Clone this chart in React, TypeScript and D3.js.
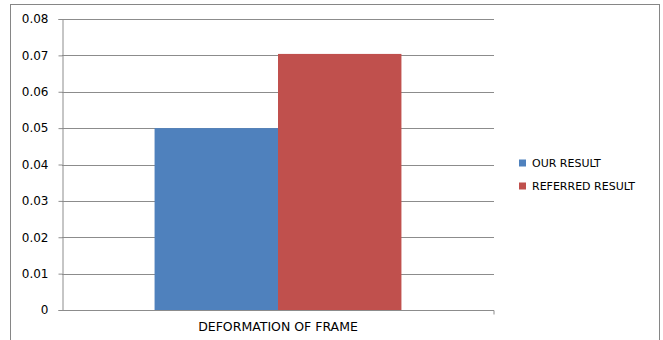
import React, { useEffect, useRef } from "react";
import * as d3 from "d3";

const categories = ["DEFORMATION OF FRAME"];
const seriesNames = ["OUR RESULT", "REFERRED RESULT"];
const ourResult = [0.05];
const referredResult = [0.0704];
const yTicks = [0, 0.01, 0.02, 0.03, 0.04, 0.05, 0.06, 0.07, 0.08];
const colors = ["#4f81bd", "#c0504d"];

export default function App() {
  const ref = useRef<SVGSVGElement>(null);

  useEffect(() => {
    const svg = d3.select(ref.current);
    svg.selectAll("*").remove();

    const W = 663;
    const H = 340;
    const m = { left: 62, right: 169, top: 19, bottom: 30 };
    const font = "'DejaVu Sans', sans-serif";

    svg.append("rect").attr("width", W).attr("height", H).attr("fill", "#fff");

    // outer chart frame
    svg
      .append("rect")
      .attr("x", 10.5)
      .attr("y", 4.5)
      .attr("width", 649)
      .attr("height", 345)
      .attr("fill", "none")
      .attr("stroke", "#868686");

    const x = d3
      .scaleBand()
      .domain(categories)
      .range([m.left, W - m.right]);
    const x1 = d3
      .scaleBand()
      .domain(seriesNames)
      .range([0, x.bandwidth()])
      .paddingOuter(0.75);
    const y = d3
      .scaleLinear()
      .domain([0, 0.08])
      .range([H - m.bottom, m.top]);

    // gridlines
    svg
      .append("g")
      .selectAll("line")
      .data(yTicks.slice(1))
      .join("line")
      .attr("x1", m.left)
      .attr("x2", W - m.right)
      .attr("y1", (d) => Math.round(y(d)) + 0.5)
      .attr("y2", (d) => Math.round(y(d)) + 0.5)
      .attr("stroke", "#8c8c8c")
      .attr("stroke-width", 1);

    const yaxis = d3
      .axisLeft(y)
      .tickValues(yTicks)
      .tickSize(4)
      .tickPadding(10)
      .tickFormat((d) => (d === 0 ? "0" : d3.format(".2f")(d as number)));

    const gy = svg
      .append("g")
      .attr("transform", `translate(${m.left + 0.5},0)`)
      .call(yaxis);
    gy.select(".domain").attr("stroke", "#8c8c8c");
    gy.selectAll(".tick line").attr("stroke", "#8c8c8c");
    gy.selectAll(".tick text")
      .attr("font-family", font)
      .attr("font-size", 12)
      .attr("fill", "#000");

    const values = [ourResult, referredResult];
    const rows = categories.map((c, i) => ({
      cat: c,
      vals: seriesNames.map((s, j) => ({ name: s, value: values[j][i], color: colors[j] })),
    }));

    svg
      .append("g")
      .selectAll("g")
      .data(rows)
      .join("g")
      .attr("transform", (d) => `translate(${x(d.cat)},0)`)
      .selectAll("rect")
      .data((d) => d.vals)
      .join("rect")
      .attr("x", (d) => x1(d.name)!)
      .attr("width", x1.bandwidth())
      .attr("y", (d) => y(d.value))
      .attr("height", (d) => y(0) - y(d.value))
      .attr("fill", (d) => d.color);

    // category axis
    const xaxis = d3.axisBottom(x).tickSize(0).tickPadding(12);
    const gx = svg
      .append("g")
      .attr("transform", `translate(0,${Math.round(y(0)) + 0.5})`)
      .call(xaxis);
    gx.select(".domain").attr("stroke", "#8c8c8c").attr("d", `M${m.left},0H${W - m.right}V4`);
    gx.selectAll(".tick text")
      .attr("font-family", font)
      .attr("font-size", 12.5)
      .attr("fill", "#000");

    // legend
    const legend = svg
      .append("g")
      .selectAll("g")
      .data(seriesNames)
      .join("g")
      .attr("transform", (d, i) => `translate(519,${163 + i * 23})`);
    legend
      .append("rect")
      .attr("x", 0)
      .attr("y", -3.5)
      .attr("width", 7)
      .attr("height", 7)
      .attr("fill", (d, i) => colors[i]);
    legend
      .append("text")
      .attr("x", 13)
      .attr("dy", "0.36em")
      .attr("font-family", font)
      .attr("font-size", 11)
      .attr("fill", "#000")
      .text((d) => d);
  }, []);

  return (
    <div style={{ position: "fixed", left: 0, top: 0 }}>
      <svg ref={ref} width={663} height={340} style={{ display: "block" }} />
    </div>
  );
}
